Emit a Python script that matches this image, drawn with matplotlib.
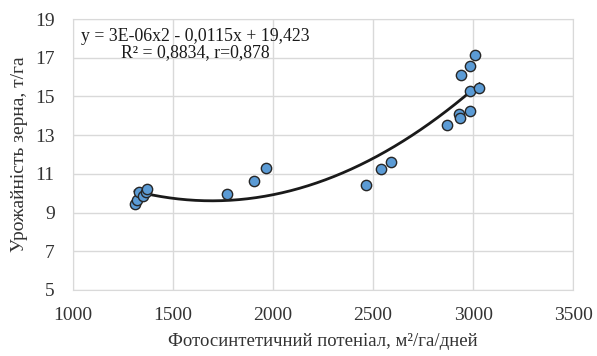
import numpy as np
import matplotlib.pyplot as plt

plt.rcParams['font.family'] = ['Liberation Serif', 'DejaVu Serif']

# photosynthetic potential vs grain yield
fp = [1311, 1319, 1329, 1351, 1366, 1373, 1772, 1904, 1966, 2464, 2542, 2592,
      2868, 2927, 2935, 2984, 2939, 2984, 3009, 2984, 3031]
yld = [9.45, 9.65, 10.09, 9.85, 10.09, 10.23, 9.96, 10.64, 11.32, 10.42, 11.23, 11.59,
       13.55, 14.11, 13.90, 14.25, 16.09, 16.60, 17.15, 15.28, 15.45]

x_ticks = [1000, 1500, 2000, 2500, 3000, 3500]
y_ticks = [5, 7, 9, 11, 13, 15, 17, 19]

fig = plt.figure(figsize=(5.97, 3.56), dpi=100)
ax = fig.add_axes([0.1218, 0.1854, 0.8385, 0.761])

# second-order trendline through the points
coef = np.polyfit(fp, yld, 2)
xs = np.linspace(min(fp), max(fp), 200)
ax.plot(xs, np.polyval(coef, xs), color='#1a1a1a', lw=2, zorder=3)

ax.scatter(fp, yld, s=55, color='#5b9bd5', edgecolors='#262626', linewidths=1, zorder=4)

ax.set_xlim(1000, 3500)
ax.set_ylim(5, 19)
ax.set_xticks(x_ticks)
ax.set_yticks(y_ticks)
ax.grid(True, color='#d9d9d9', lw=1)
ax.set_axisbelow(True)
for s in ax.spines.values():
    s.set_color('#d9d9d9')
ax.tick_params(length=0, labelsize=14, colors='#333333')
ax.tick_params(axis='x', pad=12)
ax.tick_params(axis='y', pad=13)

ax.set_xlabel('Фотосинтетичний потеніал, м²/га/дней', fontsize=13.5, color='#333333', labelpad=7)
ax.set_ylabel('Урожайність зерна, т/га', fontsize=14, color='#333333', labelpad=5)

ax.text(0.244, 0.905, 'y = 3E-06x2 - 0,0115x + 19,423\nR² = 0,8834, r=0,878',
        transform=ax.transAxes, ha='center', va='center', fontsize=12.8,
        color='#1a1a1a', linespacing=0.95)

fig.savefig('out.png', dpi=100)
